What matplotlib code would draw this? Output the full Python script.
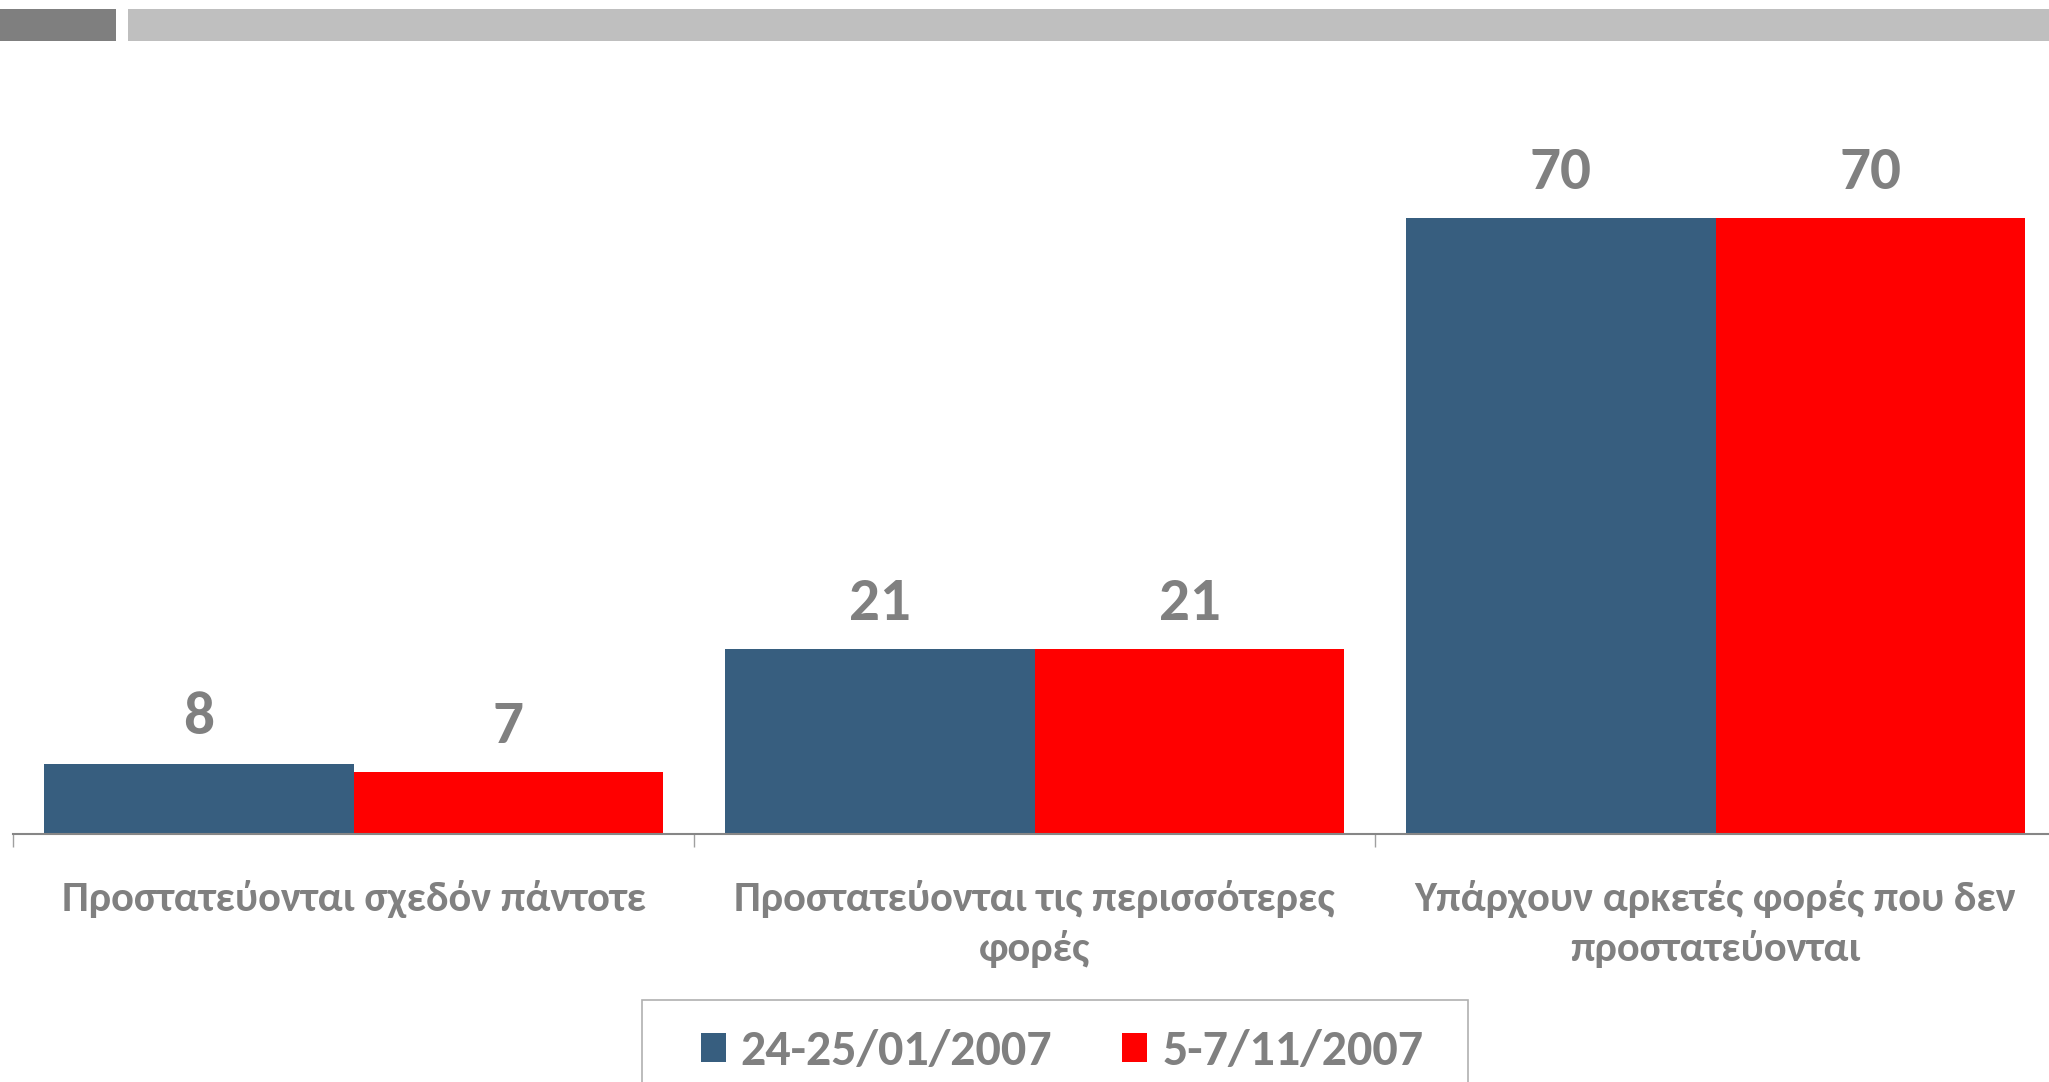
import matplotlib.pyplot as plt
import matplotlib.patches as mpatches
import numpy as np

categories = [
    "Προστατεύονται σχεδόν πάντοτε",
    "Προστατεύονται τις περισσότερες\nφορές",
    "Υπάρχουν αρκετές φορές που δεν\nπροστατεύονται",
]
series_names = ["24-25/01/2007", "5-7/11/2007"]
jan_2007 = [8, 21, 70]
nov_2007 = [7, 21, 70]

colors = ["#375E7F", "#FF0000"]
gray = "#808080"

plt.rcParams["font.family"] = ["Carlito", "Roboto", "DejaVu Sans"]
plt.rcParams["font.weight"] = "bold"

W, H = 2049, 1082
fig = plt.figure(figsize=(W / 100, H / 100), dpi=100)

# header strips
fig.add_artist(mpatches.Rectangle((0, 1 - 41 / H), 116 / W, 32 / H,
                                  transform=fig.transFigure, color="#7F7F7F", lw=0))
fig.add_artist(mpatches.Rectangle((128 / W, 1 - 41 / H), 1 - 128 / W, 32 / H,
                                  transform=fig.transFigure, color="#BFBFBF", lw=0))

ax = fig.add_axes([13 / W, 248 / H, 2043 / W, 734 / H])
x = np.arange(len(categories))
width = 0.455

for offset, vals, c in [(-width / 2, jan_2007, colors[0]), (width / 2, nov_2007, colors[1])]:
    bars = ax.bar(x + offset, vals, width, color=c)
    for rect, v in zip(bars, vals):
        ax.annotate(f"{v}", (rect.get_x() + rect.get_width() / 2, v),
                    xytext=(0, 33), textcoords="offset points",
                    ha="center", va="center", fontsize=44,
                    fontweight="bold", color=gray)

ax.set_xlim(-0.5, 2.5)
ax.set_ylim(0, 83.4)
ax.set_yticks([])
for side in ["top", "right", "left"]:
    ax.spines[side].set_visible(False)
ax.spines["bottom"].set_color("#868686")
ax.spines["bottom"].set_linewidth(1.5)

ax.set_xticks(x, categories, fontsize=30.5, fontweight="bold", color=gray,
              linespacing=1.4)
ax.tick_params(axis="x", which="major", length=0, pad=33)
ax.set_xticks([-0.5, 0.5, 1.5, 2.5], minor=True)
ax.tick_params(axis="x", which="minor", length=9, width=1, color="#A0A0A0")

# legend frame
fig.add_artist(mpatches.Rectangle((642 / W, 1 - 1100 / H), 826 / W, 100 / H,
                                  transform=fig.transFigure, facecolor="none",
                                  edgecolor="#B0B0B0", lw=1.2))
handles = [mpatches.Patch(facecolor=c, label=n) for c, n in zip(colors, series_names)]
leg = fig.legend(handles=handles, loc="center", bbox_to_anchor=(1062 / W, 1 - 1051 / H),
                 ncol=2, frameon=False, fontsize=36, handlelength=0.5,
                 handleheight=0.5, handletextpad=0.3, columnspacing=1.4)
for t in leg.get_texts():
    t.set_color(gray)
    t.set_fontweight("bold")

fig.savefig("out.png", dpi=100)
